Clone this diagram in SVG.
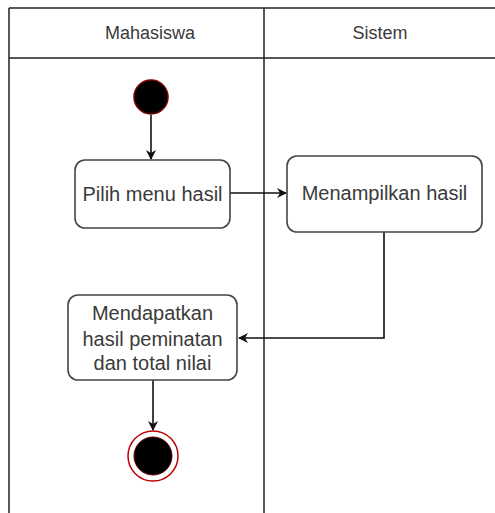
<svg xmlns="http://www.w3.org/2000/svg" width="495" height="513" viewBox="0 0 495 513">
  <style>
    .lane { fill: none; stroke: #222; stroke-width: 1.5; }
    .act rect { fill: #fff; stroke: #444; stroke-width: 1.6; }
    .lbl { font-family: "Liberation Sans", Arial, sans-serif; font-size: 20px; fill: #3a3a3a; text-anchor: middle; }
    .hdr { font-family: "Liberation Sans", Arial, sans-serif; font-size: 18px; fill: #3a3a3a; text-anchor: middle; }
    .edge { fill: none; stroke: #111; stroke-width: 1.6; }
  </style>
  <defs>
    <marker id="arrow" viewBox="0 0 10 10" refX="9" refY="5" markerWidth="10" markerHeight="10" markerUnits="userSpaceOnUse" orient="auto">
      <path d="M0,0 L10,5 L0,10 L3,5 Z" fill="#111"/>
    </marker>
  </defs>
  <rect width="495" height="513" fill="#fff"/>

  <!-- swimlanes -->
  <g id="lanes">
    <path class="lane" d="M9,8 H495 M9,58 H495 M9,8 V513 M264,8 V513"/>
    <text class="hdr" x="150" y="39">Mahasiswa</text>
    <text class="hdr" x="380" y="39">Sistem</text>
  </g>

  <!-- connectors -->
  <g id="connectors">
    <path class="edge" d="M151,115 V159" marker-end="url(#arrow)"/>
    <path class="edge" d="M230,193 H286" marker-end="url(#arrow)"/>
    <path class="edge" d="M384,232 V338 H239" marker-end="url(#arrow)"/>
    <path class="edge" d="M153,380 V430" marker-end="url(#arrow)"/>
  </g>

  <g id="start">
    <circle cx="151" cy="97" r="17" fill="#000" stroke="#7a0000" stroke-width="1.5"/>
  </g>

  <g id="pilih" class="act">
    <rect x="75" y="160" width="155" height="68" rx="10"/>
    <text class="lbl" x="152.5" y="201">Pilih menu hasil</text>
  </g>

  <g id="menampilkan" class="act">
    <rect x="287" y="156" width="195" height="76" rx="10"/>
    <text class="lbl" x="384.5" y="200">Menampilkan hasil</text>
  </g>

  <g id="mendapatkan" class="act">
    <rect x="68" y="295" width="169" height="85" rx="10"/>
    <text class="lbl" x="152.5" y="320">Mendapatkan</text>
    <text class="lbl" x="152.5" y="346">hasil peminatan</text>
    <text class="lbl" x="152.5" y="370">dan total nilai</text>
  </g>

  <g id="end">
    <circle cx="153" cy="456" r="25" fill="#fff" stroke="#c00000" stroke-width="1.5"/>
    <circle cx="153" cy="456" r="19" fill="#000" stroke="#5a0000" stroke-width="1"/>
  </g>
</svg>
